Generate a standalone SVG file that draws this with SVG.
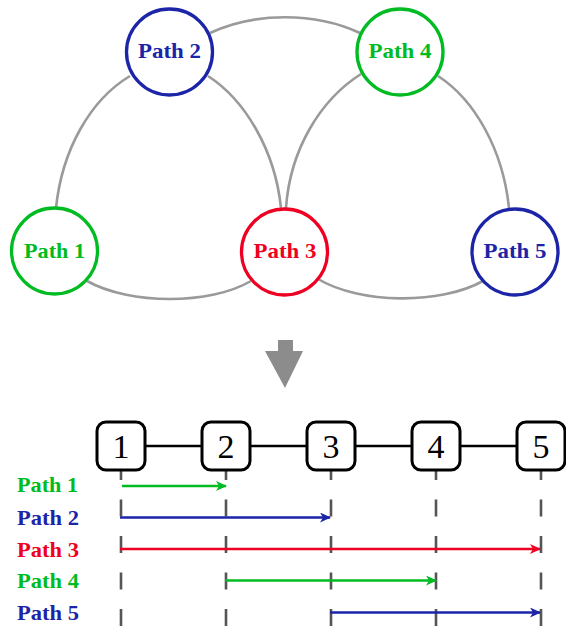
<svg xmlns="http://www.w3.org/2000/svg" width="566" height="627" viewBox="0 0 566 627">
<style>
.edge{fill:none;stroke:#9a9a9a;stroke-width:2.6}
.node circle{fill:#fff;stroke-width:3.3}
.nl{font-family:"Liberation Serif","DejaVu Serif",serif;font-weight:bold;font-size:21px;text-anchor:middle}
.lbl{font-family:"Liberation Serif","DejaVu Serif",serif;font-weight:bold;font-size:21px}
.box rect{fill:#fff;stroke:#000;stroke-width:3}
.num{font-family:"Liberation Serif","DejaVu Serif",serif;font-size:34px;text-anchor:middle}
.dash{stroke:#555;stroke-width:2.6;stroke-dasharray:17 19.5}
.arr{stroke-width:2.6;fill:none}
</style>
<defs>
<marker id="mg" markerWidth="12" markerHeight="10" refX="10" refY="5" orient="auto" markerUnits="userSpaceOnUse"><path d="M0,0 L11,5 L0,10 L3,5 Z" fill="#00bb22"/></marker>
<marker id="mb" markerWidth="12" markerHeight="10" refX="10" refY="5" orient="auto" markerUnits="userSpaceOnUse"><path d="M0,0 L11,5 L0,10 L3,5 Z" fill="#1c24a8"/></marker>
<marker id="mr" markerWidth="12" markerHeight="10" refX="10" refY="5" orient="auto" markerUnits="userSpaceOnUse"><path d="M0,0 L11,5 L0,10 L3,5 Z" fill="#ee0022"/></marker>
</defs>
<g id="connectors">
<path class="edge" d="M56,208 C62,150 90,100 130,76"/>
<path class="edge" d="M208,76 C245,100 275,150 281,208"/>
<path class="edge" d="M210,33 C255,12 315,12 360,33"/>
<path class="edge" d="M286,208 C290,150 320,100 361,74"/>
<path class="edge" d="M438,76 C475,100 503,150 509,208"/>
<path class="edge" d="M87,281 C130,305 210,305 251,281"/>
<path class="edge" d="M318,279 C360,304 440,305 483,281"/>
</g>
<g id="node-path1" class="node"><circle cx="54.5" cy="251" r="43" stroke="#00bb22"/><text class="nl" x="54.5" y="258" fill="#00bb22" textLength="61" lengthAdjust="spacingAndGlyphs">Path 1</text></g>
<g id="node-path2" class="node"><circle cx="169.5" cy="52" r="43" stroke="#1c24a8"/><text class="nl" x="169.5" y="58" fill="#1c24a8" textLength="63" lengthAdjust="spacingAndGlyphs">Path 2</text></g>
<g id="node-path3" class="node"><circle cx="284.5" cy="252" r="43" stroke="#ee0022"/><text class="nl" x="285" y="258" fill="#ee0022" textLength="63" lengthAdjust="spacingAndGlyphs">Path 3</text></g>
<g id="node-path4" class="node"><circle cx="400" cy="52" r="43" stroke="#00bb22"/><text class="nl" x="400" y="58" fill="#00bb22" textLength="63" lengthAdjust="spacingAndGlyphs">Path 4</text></g>
<g id="node-path5" class="node"><circle cx="515" cy="252" r="43" stroke="#1c24a8"/><text class="nl" x="515" y="258" fill="#1c24a8" textLength="63" lengthAdjust="spacingAndGlyphs">Path 5</text></g>
<g id="down-arrow"><path d="M278,340 H293 V351 H303 L285,388 L265,351 H278 Z" fill="#8c8c8c"/></g>
<g id="timeline">
<line x1="121" y1="446" x2="540" y2="446" stroke="#000" stroke-width="2.6"/>
<line class="dash" x1="121" y1="463" x2="121" y2="627"/>
<line class="dash" x1="226" y1="463" x2="226" y2="627"/>
<line class="dash" x1="331" y1="463" x2="331" y2="627"/>
<line class="dash" x1="436" y1="463" x2="436" y2="627"/>
<line class="dash" x1="541" y1="463" x2="541" y2="627"/>
</g>
<g id="box1" class="box"><rect x="97" y="422" width="48" height="48" rx="9"/><text class="num" x="121" y="458">1</text></g>
<g id="box2" class="box"><rect x="202" y="422" width="48" height="48" rx="9"/><text class="num" x="226" y="458">2</text></g>
<g id="box3" class="box"><rect x="307" y="422" width="48" height="48" rx="9"/><text class="num" x="331" y="458">3</text></g>
<g id="box4" class="box"><rect x="412" y="422" width="48" height="48" rx="9"/><text class="num" x="436" y="458">4</text></g>
<g id="box5" class="box"><rect x="517" y="422" width="48" height="48" rx="9"/><text class="num" x="541" y="458">5</text></g>
<g id="path-arrows">
<line class="arr" stroke="#00bb22" x1="122" y1="486" x2="226" y2="486" marker-end="url(#mg)"/>
<line class="arr" stroke="#1c24a8" x1="120" y1="517.5" x2="330" y2="517.5" marker-end="url(#mb)"/>
<line class="arr" stroke="#ee0022" x1="120" y1="549" x2="540" y2="549" marker-end="url(#mr)"/>
<line class="arr" stroke="#00bb22" x1="225" y1="580.5" x2="436" y2="580.5" marker-end="url(#mg)"/>
<line class="arr" stroke="#1c24a8" x1="330" y1="612.5" x2="540" y2="612.5" marker-end="url(#mb)"/>
</g>
<g id="labels">
<text class="lbl" x="17" y="492" fill="#00bb22" textLength="61" lengthAdjust="spacingAndGlyphs">Path 1</text>
<text class="lbl" x="17" y="524.5" fill="#1c24a8" textLength="62" lengthAdjust="spacingAndGlyphs">Path 2</text>
<text class="lbl" x="17" y="556.5" fill="#ee0022" textLength="62" lengthAdjust="spacingAndGlyphs">Path 3</text>
<text class="lbl" x="17" y="588" fill="#00bb22" textLength="62" lengthAdjust="spacingAndGlyphs">Path 4</text>
<text class="lbl" x="17" y="619.5" fill="#1c24a8" textLength="62" lengthAdjust="spacingAndGlyphs">Path 5</text>
</g>
</svg>
